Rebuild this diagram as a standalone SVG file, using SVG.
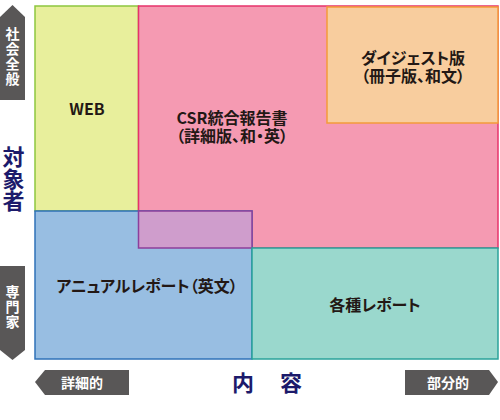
<svg xmlns="http://www.w3.org/2000/svg" width="500" height="420" viewBox="0 0 500 420">
<style>
.lbl{font-family:"Noto Sans CJK JP","Noto Sans",sans-serif;font-size:16px;font-weight:bold;fill:#231815;text-anchor:middle;font-feature-settings:"palt"}
.ax{font-family:"Noto Sans CJK JP",sans-serif;font-size:14px;font-weight:bold;fill:#ffffff;text-anchor:middle}
.vax{font-family:"Noto Sans CJK JP",sans-serif;font-size:14px;font-weight:bold;fill:#ffffff;writing-mode:vertical-rl;letter-spacing:1px}
.big{font-family:"Noto Sans CJK JP",sans-serif;font-size:22px;font-weight:bold;fill:#1c1a6b;text-anchor:middle}
.vbig{font-family:"Noto Sans CJK JP",sans-serif;font-size:22px;font-weight:bold;fill:#1c1a6b;writing-mode:vertical-rl}
.arr{fill:#595757}
.box{stroke-width:1.5}
</style>
<rect width="500" height="420" fill="#ffffff"/>
<g id="web"><rect class="box" x="35" y="6" width="103.5" height="205" fill="#e8ef9c" stroke="#8dc63f"/><text class="lbl" x="87" y="115">WEB</text></g>
<g id="csr"><rect class="box" x="138.5" y="6" width="359.5" height="242" fill="#f59ab2" stroke="#e6336b"/><text class="lbl" x="232" y="124">CSR統合報告書</text><text class="lbl" x="232" y="142">（詳細版、和・英）</text></g>
<g id="digest"><rect class="box" x="327" y="7" width="171" height="116" fill="#f8cd9e" stroke="#f39a3a"/><text class="lbl" x="413" y="64">ダイジェスト版</text><text class="lbl" x="413" y="82">（冊子版、和文）</text></g>
<g id="annual"><rect class="box" x="35" y="211" width="217" height="148" fill="#98bee2" stroke="#2f72b8"/><text class="lbl" x="147" y="292">アニュアルレポート（英文）</text></g>
<g id="overlap"><rect class="box" x="138.5" y="211" width="113.5" height="37" fill="#cf9dcc" stroke="#8c3f9b"/></g>
<g id="various"><rect class="box" x="252" y="248" width="246" height="111" fill="#9ad8cd" stroke="#2aa39a"/><text class="lbl" x="375" y="311">各種レポート</text></g>
<g id="axes">
<g id="general"><polygon class="arr" points="0,17 12.5,5 25,17 25,100 0,100"/><text class="vax" x="12.5" y="27">社会全般</text></g>
<g id="expert"><polygon class="arr" points="0,266 25,266 25,350 12.5,360 0,350"/><text class="vax" x="12.5" y="285">専門家</text></g>
<g id="target"><text class="vbig" x="13.5" y="146">対象者</text></g>
<g id="detail"><polygon class="arr" points="35,382 45,370 129,370 129,395 45,395"/><text class="ax" x="82" y="388">詳細的</text></g>
<g id="partial"><polygon class="arr" points="405,370 489,370 498,382 489,395 405,395"/><text class="ax" x="448" y="388">部分的</text></g>
<g id="content"><text class="big" x="243" y="391">内</text><text class="big" x="291" y="391">容</text></g>
</g>
</svg>
